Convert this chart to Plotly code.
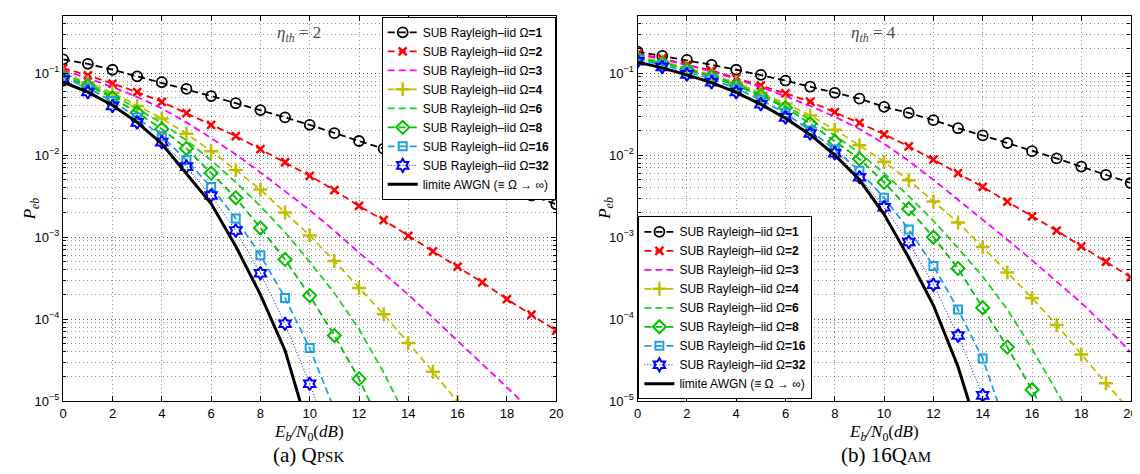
import numpy as np
import plotly.graph_objects as go

# ---------------- data (log10 of Peb) ----------------
eb_n0_db = list(range(0, 21))

qpsk_omega1 = [-0.831, -0.886, -0.958, -1.038, -1.110, -1.191, -1.279, -1.366, -1.450, -1.539, -1.630,
               -1.731, -1.827, -1.92, -2.02, -2.12, -2.216, -2.311, -2.395, -2.491, -2.599]
qpsk_omega2 = [-0.939, -1.026, -1.126, -1.230, -1.350, -1.486, -1.630, -1.767, -1.927, -2.086, -2.251,
               -2.427, -2.619, -2.791, -2.983, -3.172, -3.359, -3.551, -3.755, -3.944, -4.139]
qpsk_omega3 = [-0.965, -1.06, -1.17, -1.29, -1.43, -1.60, -1.79, -1.99, -2.21, -2.44, -2.67,
               -2.92, -3.19, -3.44, -3.70, -3.98, -4.26, -4.54, -4.83, -5.12, -5.40]
qpsk_omega4 = [-1.01, -1.11, -1.239, -1.399, -1.551, -1.738, -1.951, -2.179, -2.419, -2.699, -2.98,
               -3.29, -3.62, -3.94, -4.29, -4.64, -5.01]
qpsk_omega6 = [-1.02, -1.13, -1.27, -1.43, -1.61, -1.82, -2.06, -2.33, -2.62, -2.94, -3.30,
               -3.68, -4.12, -4.65, -5.25]
qpsk_omega8 = [-1.04, -1.15, -1.30, -1.48, -1.68, -1.918, -2.218, -2.519, -2.887, -3.271, -3.712,
               -4.199, -4.727, -5.36]
qpsk_omega16 = [-1.05, -1.18, -1.34, -1.54, -1.77, -2.06, -2.387, -2.771, -3.219, -3.74, -4.352, -5.10]
qpsk_omega32 = [-1.078, -1.23, -1.40, -1.60, -1.84, -2.139, -2.491, -2.919, -3.439, -4.055, -4.787, -5.57]
qpsk_awgn = [-1.11, -1.23, -1.39, -1.60, -1.86, -2.22, -2.59, -3.11, -3.70, -4.38, -5.40]

qam16_omega1 = [-0.738, -0.79, -0.838, -0.898, -0.958, -1.02, -1.09, -1.165, -1.239, -1.311, -1.41,
                -1.485, -1.573, -1.671, -1.759, -1.851, -1.951, -2.039, -2.139, -2.239, -2.339]
qam16_omega2 = [-0.766, -0.82, -0.898, -0.966, -1.059, -1.15, -1.246, -1.347, -1.475, -1.607, -1.745,
                -1.893, -2.055, -2.219, -2.387, -2.567, -2.747, -2.919, -3.111, -3.299, -3.487]
qam16_omega3 = [-0.775, -0.83, -0.90, -0.98, -1.07, -1.17, -1.28, -1.40, -1.53, -1.68, -1.86,
                -2.07, -2.30, -2.54, -2.79, -3.03, -3.28, -3.54, -3.80, -4.09, -4.40]
qam16_omega4 = [-0.80, -0.86, -0.935, -1.02, -1.115, -1.245, -1.37, -1.515, -1.69, -1.88, -2.08,
                -2.305, -2.565, -2.82, -3.12, -3.43, -3.74, -4.07, -4.43, -4.78, -5.12]
qam16_omega6 = [-0.81, -0.87, -0.945, -1.03, -1.13, -1.26, -1.40, -1.565, -1.76, -1.97, -2.22,
                -2.50, -2.80, -3.13, -3.48, -3.88, -4.36, -4.88, -5.40]
qam16_omega8 = [-0.82, -0.88, -0.955, -1.045, -1.15, -1.275, -1.42, -1.615, -1.83, -2.045, -2.33,
                -2.655, -3.00, -3.38, -3.86, -4.34, -4.86, -5.40]
qam16_omega16 = [-0.835, -0.90, -0.98, -1.07, -1.185, -1.325, -1.49, -1.70, -1.93, -2.19, -2.52,
                 -2.905, -3.35, -3.88, -4.48, -5.35]
qam16_omega32 = [-0.855, -0.925, -1.015, -1.11, -1.23, -1.378, -1.539, -1.735, -1.975, -2.269, -2.635,
                 -3.059, -3.579, -4.199, -4.928, -5.70]
qam16_awgn = [-0.865, -0.935, -1.02, -1.115, -1.235, -1.38, -1.55, -1.75, -2.00, -2.30, -2.72,
              -3.25, -3.83, -4.58, -5.55]

series_labels = ["SUB Rayleigh–iid Ω<b>=1</b>", "SUB Rayleigh–iid Ω<b>=2</b>", "SUB Rayleigh–iid Ω<b>=3</b>",
                 "SUB Rayleigh–iid Ω<b>=4</b>", "SUB Rayleigh–iid Ω<b>=6</b>", "SUB Rayleigh–iid Ω<b>=8</b>",
                 "SUB Rayleigh–iid Ω<b>=16</b>", "SUB Rayleigh–iid Ω<b>=32</b>", "limite AWGN (≡ Ω → ∞)"]
y_tick_vals = [1e-5, 1e-4, 1e-3, 1e-2, 1e-1]
y_tick_text = ["10<sup>−5</sup>", "10<sup>−4</sup>", "10<sup>−3</sup>", "10<sup>−2</sup>", "10<sup>−1</sup>"]
x_tick_vals = [0, 2, 4, 6, 8, 10, 12, 14, 16, 18, 20]

# ---------------- styles ----------------
styles = [
    dict(color="black", dash="7px,4px", symbol="circle-open", size=10, mlw=1.8),
    dict(color="#ff0000", dash="7px,4px", symbol="x-thin", size=8, mlw=2.5),
    dict(color="#ff00ff", dash="7px,4px", symbol=None, size=0, mlw=0),
    dict(color="#bfbf00", dash="7px,4px", symbol="cross-thin", size=10, mlw=2.5),
    dict(color="#1ad41a", dash="7px,4px", symbol=None, size=0, mlw=0),
    dict(color="#00c000", dash="7px,4px", symbol="diamond-open", size=10, mlw=2),
    dict(color="#1f9fe0", dash="7px,4px", symbol="square-open", size=8, mlw=2),
    dict(color="#0000ff", dash="1px,2px", symbol="hexagram-open", size=10, mlw=2),
    dict(color="black", dash="solid", symbol=None, size=0, mlw=0),
]

fig = go.Figure()


def add_panel(series, xa, ya, legend):
    for i, (vals, st) in enumerate(zip(series, styles)):
        x = eb_n0_db[:len(vals)]
        y = np.power(10.0, np.array(vals))
        lw = 3 if i == 8 else (1 if i == 7 else 1.8)
        mode = "lines+markers" if st["symbol"] else "lines"
        kw = dict(x=x, y=y, mode=mode, name=series_labels[i], xaxis=xa, yaxis=ya, legend=legend,
                  line=dict(color=st["color"], width=lw, dash=st["dash"]), cliponaxis=True)
        if st["symbol"]:
            kw["marker"] = dict(symbol=st["symbol"], size=st["size"], color=st["color"],
                                line=dict(color=st["color"], width=st["mlw"]))
        fig.add_trace(go.Scatter(**kw))


add_panel([qpsk_omega1, qpsk_omega2, qpsk_omega3, qpsk_omega4, qpsk_omega6, qpsk_omega8,
           qpsk_omega16, qpsk_omega32, qpsk_awgn], "x", "y", "legend")
add_panel([qam16_omega1, qam16_omega2, qam16_omega3, qam16_omega4, qam16_omega6, qam16_omega8,
           qam16_omega16, qam16_omega32, qam16_awgn], "x2", "y2", "legend2")

W, H = 1140, 474
ydom = [1 - 400 / H, 1 - 8 / H]
grid_col = "rgba(0,0,0,0.42)"
grid_dash = "1px,3px"
tickfont = dict(family="Liberation Sans, Arial, sans-serif", size=13, color="black")


def xaxis_cfg(dom, anchor):
    return dict(domain=dom, anchor=anchor, range=[0, 20], tickmode="array", tickvals=x_tick_vals,
                showline=True, linecolor="black", linewidth=1.3, mirror="ticks", ticks="inside",
                ticklen=5, tickcolor="black", showgrid=True, gridcolor=grid_col, griddash=grid_dash,
                gridwidth=1, zeroline=False, tickfont=tickfont)


def yaxis_cfg(anchor):
    return dict(domain=ydom, anchor=anchor, type="log", range=[-5, np.log10(0.5)], tickmode="array",
                tickvals=y_tick_vals, ticktext=y_tick_text, showline=True, linecolor="black",
                linewidth=1.3, mirror="ticks", ticks="inside", ticklen=5, tickcolor="black",
                showgrid=True, gridcolor=grid_col, griddash=grid_dash, gridwidth=1, zeroline=False,
                tickfont=tickfont,
                minor=dict(dtick="D1", showgrid=True, gridcolor=grid_col, griddash=grid_dash, gridwidth=1,
                           ticks="inside", ticklen=3, tickcolor="black"))


legend_common = dict(bgcolor="white", bordercolor="black", borderwidth=1,
                     font=dict(family="Liberation Sans, Arial, sans-serif", size=12, color="black"),
                     tracegroupgap=0, itemwidth=30)

fig.update_layout(
    width=W, height=H, margin=dict(l=0, r=0, t=0, b=0),
    paper_bgcolor="white", plot_bgcolor="white",
    xaxis=xaxis_cfg([51.7 / W, 549.5 / W], "y"),
    yaxis=yaxis_cfg("x"),
    xaxis2=xaxis_cfg([631.7 / W, 1129.5 / W], "y2"),
    yaxis2=yaxis_cfg("x2"),
    legend=dict(x=549 / W, y=1 - 9 / H, xanchor="right", yanchor="top", **legend_common),
    legend2=dict(x=632.5 / W, y=1 - 398 / H, xanchor="left", yanchor="bottom", **legend_common),
)

serif = "Liberation Serif, DejaVu Serif, serif"
ann = [
    dict(text="<i>P</i><sub><i>eb</i></sub>", x=19 / W, y=1 - 204 / H, textangle=-90),
    dict(text="<i>P</i><sub><i>eb</i></sub>", x=599 / W, y=1 - 204 / H, textangle=-90),
    dict(text="<i>E</i><sub><i>b</i></sub><i>/N</i><sub>0</sub>(<i>dB</i>)", x=300 / W, y=1 - 432 / H),
    dict(text="<i>E</i><sub><i>b</i></sub><i>/N</i><sub>0</sub>(<i>dB</i>)", x=881 / W, y=1 - 432 / H),
    dict(text="(a) Q<span style='font-size:15px'>PSK</span>", x=299 / W, y=1 - 455 / H, size=21),
    dict(text="(b) 16Q<span style='font-size:15px'>AM</span>", x=883 / W, y=1 - 455 / H, size=21),
    dict(text="<i>η</i><sub><i>th</i></sub> = 2", x=290 / W, y=1 - 26 / H, color="#4a4a4a"),
    dict(text="<i>η</i><sub><i>th</i></sub> = 4", x=870 / W, y=1 - 26 / H, color="#4a4a4a"),
]
for a in ann:
    fig.add_annotation(text=a["text"], x=a["x"], y=a["y"], xref="paper", yref="paper",
                       xanchor="center", yanchor="middle", showarrow=False,
                       textangle=a.get("textangle", 0), bgcolor="rgba(0,0,0,0)",
                       font=dict(family=serif, size=a.get("size", 17), color=a.get("color", "black")))

fig.write_html("out.html")
